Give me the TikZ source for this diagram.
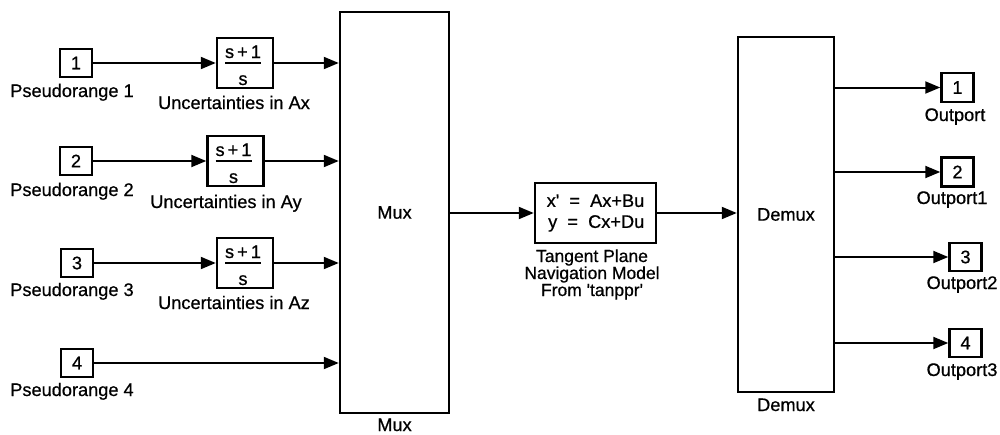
\documentclass[tikz,border=0pt]{standalone}
\usepackage{fontspec}
\setmainfont{Liberation Sans}[FakeBold=0.7]
\usetikzlibrary{arrows.meta,calc}
\begin{document}
\begin{tikzpicture}[x=1pt,y=-1pt,
  blk/.style={draw, line width=2.5pt, inner sep=0pt},
  port/.style={blk, minimum width=32pt, minimum height=28pt},
  tfbox/.style={blk, minimum width=56pt, minimum height=50pt},
  wire/.style={line width=2pt, -{Triangle[length=15pt,width=12pt]}},
  fracline/.style={line width=1.7pt},
  lbl/.style={inner sep=0pt, anchor=base},
  every node/.append style={font=\fontsize{18.2}{16}\selectfont}]
\useasboundingbox (0,0) rectangle (1000,434);

% inports
\node[port] (i1) at (76,63) {1};
\node[port] (i2) at (76,161) {2};
\node[port] (i3) at (77,263) {3};
\node[port] (i4) at (77,363) {4};
\node[lbl] (li1) at (72,97) {Pseudorange 1};
\node[lbl] (li2) at (72,196) {Pseudorange 2};
\node[lbl] (li3) at (72,296) {Pseudorange 3};
\node[lbl] (li4) at (72,396) {Pseudorange 4};

% transfer functions
\node[tfbox] (t1) at (245,63) {};
\node[tfbox] (t2) at (235.5,161) {};
\node[tfbox] (t3) at (245,263) {};
\foreach \t in {t1,t2,t3}{
  \node[lbl] (\t num) at ($(\t.center)+(-2,-5)$) {s\,+\,1};
  \node[lbl] (\t den) at ($(\t.center)+(-2,22)$) {s};
  \draw[fracline] ($(\t.center)+(-20,0)$) -- ($(\t.center)+(16,0)$);
}
\node[lbl] (lt1) at (234,109) {Uncertainties in Ax};
\node[lbl] (lt2) at (226,208) {Uncertainties in Ay};
\node[lbl] (lt3) at (234,309) {Uncertainties in Az};

% mux
\node[blk, minimum width=109pt, minimum height=401pt] (mux) at (394.5,212.5) {Mux};
\node[lbl] (lmux) at (394.5,431) {Mux};

% state space
\node[blk, minimum width=121pt, minimum height=60pt, align=right,
      font=\fontsize{18.2}{21}\selectfont] (ss) at (595.5,213)
  {x\textquotesingle\ \ =\ \ Ax+Bu\\y\ \ =\ \ Cx+Du\hspace{1pt}};
\node[lbl, font=\fontsize{17.5}{16}\selectfont] (lss1) at (592,262) {Tangent Plane};
\node[lbl, font=\fontsize{17.5}{16}\selectfont] (lss2) at (592,279) {Navigation Model};
\node[lbl, font=\fontsize{17.5}{16}\selectfont] (lss3) at (592,296) {From \textquotesingle tanppr\textquotesingle};

% demux
\node[blk, minimum width=96pt, minimum height=355pt] (dmx) at (786,214.5) {Demux};
\node[lbl] (ldmx) at (786,411) {Demux};

% outports
\node[port, minimum height=29pt] (o1) at (957.5,87.5) {1};
\node[port, minimum height=29pt] (o2) at (957.5,172) {2};
\node[port] (o3) at (965.5,257) {3};
\node[port] (o4) at (965.5,343) {4};
\node[lbl] (lo1) at (955,121) {Outport};
\node[lbl] (lo2) at (952,204) {Outport1};
\node[lbl] (lo3) at (962,289) {Outport2};
\node[lbl] (lo4) at (962,376) {Outport3};

% connectors
\draw[wire] (i1.east) -- (t1.west);
\draw[wire] (i2.east) -- (t2.west);
\draw[wire] (i3.east) -- (t3.west);
\draw[wire] (t1.east) -- (t1.east -| mux.west);
\draw[wire] (t2.east) -- (t2.east -| mux.west);
\draw[wire] (t3.east) -- (t3.east -| mux.west);
\draw[wire] (i4.east) -- (i4.east -| mux.west);
\draw[wire] (ss.west -| mux.east) -- (ss.west);
\draw[wire] (ss.east) -- (ss.east -| dmx.west);
\draw[wire] (o1.west -| dmx.east) -- (o1.west);
\draw[wire] (o2.west -| dmx.east) -- (o2.west);
\draw[wire] (o3.west -| dmx.east) -- (o3.west);
\draw[wire] (o4.west -| dmx.east) -- (o4.west);
\end{tikzpicture}
\end{document}
